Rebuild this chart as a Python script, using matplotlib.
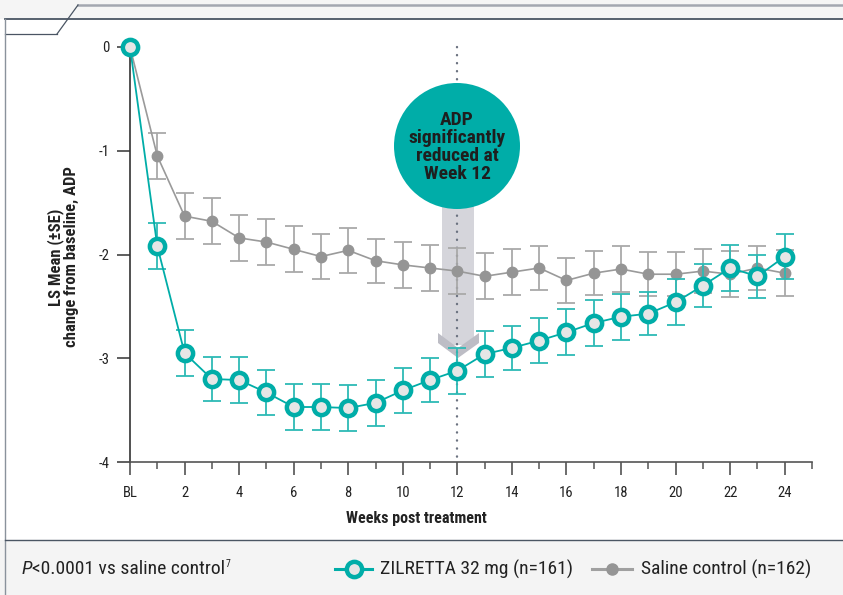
import matplotlib
matplotlib.use("Agg")
import matplotlib.pyplot as plt
from matplotlib import font_manager as fm
from matplotlib.patches import Circle, Rectangle, Polygon
from matplotlib.lines import Line2D
from matplotlib.transforms import IdentityTransform

# ---------------- data ----------------
weeks = list(range(0, 25))
xtick_pos = list(range(0, 25, 2))
xtick_labels = ["BL"] + [str(w) for w in range(2, 25, 2)]
ytick_pos = [0, -1, -2, -3, -4]
ytick_labels = ["0", "-1", "-2", "-3", "-4"]

zil_mean = [0, -1.92, -2.95, -3.20, -3.21, -3.33, -3.47, -3.47, -3.48, -3.43, -3.31, -3.21,
            -3.12, -2.96, -2.90, -2.83, -2.75, -2.66, -2.60, -2.57, -2.46, -2.30, -2.13, -2.21, -2.02]
zil_se = [0, 0.22, 0.22, 0.21, 0.22, 0.22, 0.22, 0.22, 0.22, 0.22, 0.22, 0.21,
          0.22, 0.22, 0.21, 0.22, 0.22, 0.22, 0.22, 0.21, 0.22, 0.21, 0.22, 0.21, 0.22]
sal_mean = [0, -1.05, -1.63, -1.68, -1.84, -1.88, -1.95, -2.02, -1.96, -2.06, -2.10, -2.13,
            -2.16, -2.21, -2.17, -2.13, -2.25, -2.18, -2.14, -2.19, -2.19, -2.16, -2.19, -2.13, -2.18]
sal_se = [0, 0.22, 0.22, 0.22, 0.22, 0.22, 0.22, 0.22, 0.22, 0.21, 0.22, 0.22,
          0.22, 0.22, 0.22, 0.21, 0.22, 0.21, 0.22, 0.21, 0.21, 0.21, 0.22, 0.21, 0.22]

zil_label = "ZILRETTA 32 mg (n=161)"
sal_label = "Saline control (n=162)"
callout = "ADP\nsignificantly\nreduced at\nWeek 12"
footnote = "<0.0001 vs saline control"

TEAL = "#00ADA8"
TEAL_ERR = "#2DBAB5"
GRAY = "#959595"
GRAY_ERR = "#A9A9A9"
FACE = "#E6E6E6"
DARK = "#222222"

# ---------------- fonts ----------------
names = {f.name for f in fm.fontManager.ttflist}
fam, stretch = "Roboto", "normal"
for cand in ["Roboto Condensed", "Liberation Sans Narrow", "Open Sans Condensed", "Noto Sans Condensed"]:
    if cand in names:
        fam, stretch = cand, "normal"
        break
else:
    if any(f.name == "DejaVu Sans" and f.stretch in ("condensed", "semi-condensed") for f in fm.fontManager.ttflist):
        fam, stretch = "DejaVu Sans", "condensed"
plt.rcParams["font.family"] = [fam, "DejaVu Sans"]
plt.rcParams["font.stretch"] = stretch

W, H = 843, 595
fig = plt.figure(figsize=(W / 100, H / 100), dpi=100, facecolor="white")


def fx(px):
    return px / W


def fy(py):
    return 1 - py / H


# ---------------- frame decoration ----------------
fig.patches.append(Rectangle((0, fy(19)), 1, 19 / H, transform=fig.transFigure,
                             facecolor="#F5F5F5", edgecolor="none", zorder=-5))
fig.patches.append(Rectangle((0, 0), 1, fy(540), transform=fig.transFigure,
                             facecolor="#F4F4F4", edgecolor="none", zorder=-5))
frame_col = "#4A5563"
fig.lines.append(Line2D([fx(78), 1], [fy(5), fy(5)], transform=fig.transFigure, color="#A3A7B0", lw=1.8))
fig.lines.append(Line2D([fx(78), fx(57)], [fy(5), fy(34)], transform=fig.transFigure, color=frame_col, lw=0.9))
fig.lines.append(Line2D([fx(5), fx(57)], [fy(34), fy(34)], transform=fig.transFigure, color=frame_col, lw=0.9))
fig.lines.append(Line2D([fx(5), 1], [fy(19), fy(19)], transform=fig.transFigure, color=frame_col, lw=1.3))
fig.lines.append(Line2D([fx(5), fx(5)], [fy(19), 0], transform=fig.transFigure, color="#8A929C", lw=1.0))
fig.lines.append(Line2D([fx(5), 1], [fy(540), fy(540)], transform=fig.transFigure, color=frame_col, lw=1.0))

# ---------------- axes ----------------
ax = fig.add_axes([fx(130), fy(462), (812 - 130) / W, (462 - 47) / H])
ax.set_facecolor("none")
ax.set_xlim(0, 25)
ax.set_ylim(-4, 0)
for s in ["top", "right"]:
    ax.spines[s].set_visible(False)
ax.spines["left"].set_color("#333333")
ax.spines["bottom"].set_color("#555555")
ax.spines["left"].set_linewidth(1.2)
ax.spines["bottom"].set_linewidth(1.2)

ax.set_xticks(xtick_pos)
ax.set_xticklabels(xtick_labels)
ax.set_xticks(list(range(1, 26, 2)), minor=True)
ax.set_yticks(ytick_pos)
ax.set_yticklabels(ytick_labels)
ax.tick_params(axis="x", which="major", length=9.5, width=1.1, color="#444444", labelsize=10.5,
               labelcolor=DARK, pad=8)
ax.tick_params(axis="x", which="minor", length=5, width=1.1, color="#555555")
ax.tick_params(axis="y", which="major", length=9.5, width=1.1, color="#333333", labelsize=10.5,
               labelcolor=DARK, pad=5)

# dotted week-12 line
ax.plot([12, 12], [0, -4], ls=(0, (0.1, 3.3)), lw=1.7, color="#6B7280",
        dash_capstyle="round", zorder=1.5, clip_on=False)

# arrow (pixel coordinates, display space)
def P(x, y):
    return (x, H - y)

tr = IdentityTransform()
ax.add_patch(Rectangle(P(442, 345), 32, 345 - 200, transform=tr, facecolor="#D5D5DB",
                       edgecolor="none", zorder=1, clip_on=False))
ax.add_patch(Polygon([P(438, 333), P(458, 348), P(479, 333), P(479, 343), P(458, 358), P(438, 343)],
                     closed=True, transform=tr, facecolor="#BDBDC5", edgecolor="none", zorder=1.2,
                     clip_on=False))
# callout circle
ax.add_patch(Circle(P(457, 146), 63, transform=tr, facecolor=TEAL, edgecolor="none",
                    zorder=6, clip_on=False))
ax.text(457, H - 147, callout, transform=tr, ha="center", va="center", fontsize=14,
        fontweight="bold", color="#1E1E1E", linespacing=1.02, zorder=7)

# saline series
ax.errorbar(weeks[1:], sal_mean[1:], yerr=sal_se[1:], fmt="none", ecolor=GRAY_ERR,
            elinewidth=1.3, capsize=6.2, capthick=1.3, zorder=2, clip_on=False)
ax.plot(weeks, sal_mean, color="#9A9A9A", lw=1.2, marker="o", ms=7.5, mfc=GRAY, mec=GRAY,
        zorder=3, clip_on=False)

# zilretta series
ax.errorbar(weeks[1:], zil_mean[1:], yerr=zil_se[1:], fmt="none", ecolor=TEAL_ERR,
            elinewidth=1.3, capsize=6.2, capthick=1.3, zorder=4, clip_on=False)
ax.plot(weeks, zil_mean, color=TEAL, lw=1.3, marker="o", ms=11, mfc=FACE, mec=TEAL,
        mew=3.2, zorder=5, clip_on=False)

# axis labels
fig.text(fx(416), fy(519), "Weeks post treatment", ha="center", va="center", fontsize=11.5,
         fontweight="bold", color=DARK)
fig.text(fx(56), fy(257), "LS Mean (\u00b1SE)", ha="center", va="center", rotation=90,
         fontsize=12, fontweight="bold", color=DARK)
fig.text(fx(71), fy(257), "change from baseline, ADP", ha="center", va="center", rotation=90,
         fontsize=12, fontweight="bold", color=DARK)

# footer note
fig.canvas.draw()
r = fig.canvas.get_renderer()
t1 = fig.text(fx(22), fy(569), "P", ha="left", va="center", fontsize=14, style="italic", color=DARK)
bb = t1.get_window_extent(r)
t2 = fig.text(bb.x1 / W, fy(569), footnote, ha="left", va="center", fontsize=14, color=DARK)
bb2 = t2.get_window_extent(r)
fig.text(bb2.x1 / W, fy(564), "7", ha="left", va="center", fontsize=7, color=DARK)

# legend
fig.lines.append(Line2D([fx(335), fx(372)], [fy(569), fy(569)], transform=fig.transFigure,
                        color=TEAL, lw=2.2))
fig.lines.append(Line2D([fx(353.5)], [fy(569)], transform=fig.transFigure, marker="o", ms=11,
                        mfc=FACE, mec=TEAL, mew=3.2, lw=0))
fig.text(fx(380), fy(569), zil_label, ha="left", va="center", fontsize=14, color=DARK)
fig.lines.append(Line2D([fx(592), fx(632)], [fy(569), fy(569)], transform=fig.transFigure,
                        color="#A0A0A0", lw=2.2))
fig.lines.append(Line2D([fx(612)], [fy(569)], transform=fig.transFigure, marker="o", ms=8,
                        mfc=GRAY, mec=GRAY, lw=0))
fig.text(fx(641), fy(569), sal_label, ha="left", va="center", fontsize=14, color=DARK)

fig.savefig("out.png", dpi=100, facecolor=fig.get_facecolor())
